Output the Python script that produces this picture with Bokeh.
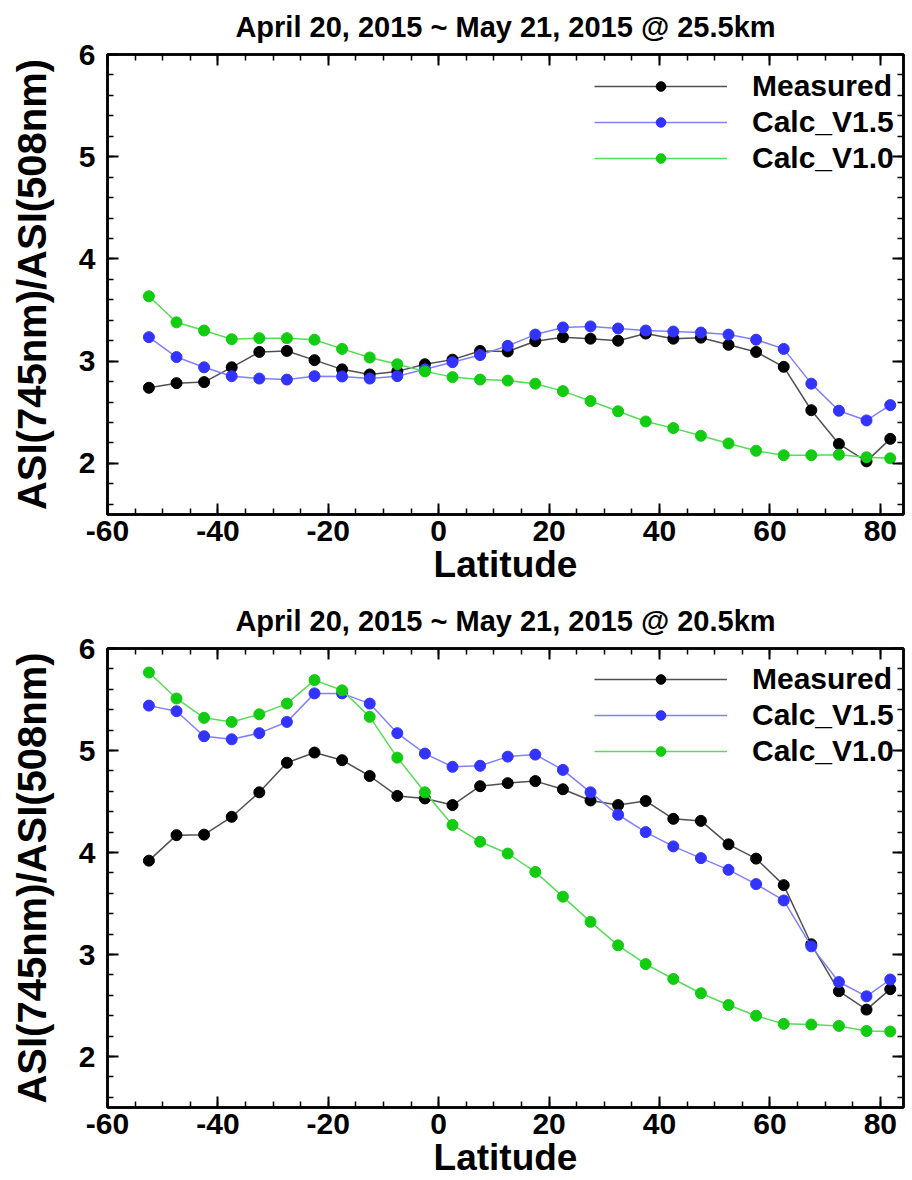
from bokeh.plotting import figure
from bokeh.models import (Range1d, LinearAxis, SingleIntervalTicker, Legend, LegendItem,
                          CustomLabelingPolicy, CustomJSTickFormatter)
from bokeh.layouts import column
from bokeh.embed import file_html
from bokeh.resources import INLINE

# ---------------- data ----------------
latitude = [-52.5, -47.5, -42.5, -37.5, -32.5, -27.5, -22.5, -17.5, -12.5, -7.5,
            -2.5, 2.5, 7.5, 12.5, 17.5, 22.5, 27.5, 32.5, 37.5, 42.5,
            47.5, 52.5, 57.5, 62.5, 67.5, 72.5, 77.5, 81.8]

title_top = "April 20, 2015 ~ May 21, 2015 @ 25.5km"
measured_25 = [2.74, 2.785, 2.795, 2.94, 3.09, 3.10, 3.01, 2.92, 2.87, 2.90,
               2.97, 3.015, 3.10, 3.095, 3.195, 3.235, 3.22, 3.20, 3.27, 3.22,
               3.23, 3.16, 3.09, 2.945, 2.52, 2.19, 2.02, 2.24]
calc_v15_25 = [3.235, 3.04, 2.94, 2.853, 2.83, 2.82, 2.853, 2.85, 2.83, 2.853,
               2.92, 2.99, 3.06, 3.15, 3.26, 3.33, 3.34, 3.32, 3.30, 3.29,
               3.28, 3.26, 3.21, 3.12, 2.78, 2.515, 2.42, 2.57]
calc_v10_25 = [3.635, 3.38, 3.30, 3.215, 3.225, 3.225, 3.21, 3.12, 3.036, 2.97,
               2.90, 2.844, 2.82, 2.81, 2.78, 2.707, 2.61, 2.51, 2.41, 2.345,
               2.27, 2.195, 2.123, 2.08, 2.08, 2.085, 2.06, 2.05]

title_bottom = "April 20, 2015 ~ May 21, 2015 @ 20.5km"
measured_20 = [3.92, 4.17, 4.175, 4.35, 4.59, 4.88, 4.98, 4.905, 4.75, 4.555,
               4.53, 4.465, 4.65, 4.68, 4.70, 4.62, 4.51, 4.465, 4.505, 4.33,
               4.31, 4.08, 3.94, 3.68, 3.10, 2.64, 2.46, 2.66]
calc_v15_20 = [5.44, 5.385, 5.14, 5.11, 5.17, 5.28, 5.56, 5.56, 5.46, 5.17,
               4.97, 4.84, 4.85, 4.94, 4.96, 4.81, 4.59, 4.37, 4.20, 4.06,
               3.945, 3.83, 3.69, 3.53, 3.08, 2.73, 2.59, 2.755]
calc_v10_20 = [5.765, 5.51, 5.32, 5.28, 5.355, 5.46, 5.69, 5.59, 5.33, 4.93,
               4.59, 4.27, 4.105, 3.99, 3.81, 3.567, 3.32, 3.09, 2.906, 2.76,
               2.62, 2.505, 2.40, 2.32, 2.313, 2.30, 2.25, 2.245]

series_names = ["Measured", "Calc_V1.5", "Calc_V1.0"]
marker_colors = ["#000000", "#3333ff", "#11cc11"]
line_colors = ["#505050", "#8080ff", "#55dd55"]

x_limits = (-60, 84.2)
y_limits = (1.5, 6)
x_label = "Latitude"
y_label = "ASI(745nm)/ASI(508nm)"

FONT = "Liberation Sans"


def style_axis(ax, show_labels=True):
    ax.axis_line_width = 2.5
    ax.axis_line_color = "black"
    ax.major_tick_in = 11
    ax.major_tick_out = 0
    ax.minor_tick_in = 6
    ax.minor_tick_out = 0
    ax.major_tick_line_width = 2
    ax.minor_tick_line_width = 1.5
    ax.major_label_text_font = FONT
    ax.major_label_text_font_style = "bold"
    ax.major_label_text_color = "black"
    ax.formatter = CustomJSTickFormatter(code="return tick.toFixed(0);")
    if show_labels:
        ax.major_label_text_font_size = "30px"
    else:
        ax.major_label_policy = CustomLabelingPolicy(code="return new Set();")
        ax.major_label_standoff = 0


def make_panel(title, series, height, border_top, border_bottom):
    p = figure(width=912, height=height,
               x_range=Range1d(*x_limits), y_range=Range1d(*y_limits),
               output_backend="svg", toolbar_location=None,
               min_border_left=107, min_border_right=4,
               min_border_top=border_top, min_border_bottom=border_bottom,
               x_axis_label=x_label, y_axis_label=y_label)
    p.title.text = title
    p.title.text_font = FONT
    p.title.text_font_size = "29px"
    p.title.text_font_style = "bold"
    p.title.text_color = "black"
    p.title.align = "center"
    p.title.offset = -16
    p.title.standoff = 2
    p.grid.visible = False
    p.outline_line_color = "black"
    p.outline_line_width = 2.5
    p.background_fill_color = "white"
    p.border_fill_color = "white"

    p.xaxis.ticker = SingleIntervalTicker(interval=20, num_minor_ticks=4)
    p.yaxis.ticker = SingleIntervalTicker(interval=1, num_minor_ticks=5)
    for ax in p.xaxis:
        style_axis(ax)
        ax.major_label_standoff = 6
        ax.axis_label_standoff = 0
        ax.axis_label_text_font = FONT
        ax.axis_label_text_font_size = "37px"
        ax.axis_label_text_font_style = "bold"
        ax.axis_label_text_color = "black"
    for ax in p.yaxis:
        style_axis(ax)
        ax.major_label_standoff = 12
        ax.axis_label_standoff = 22
        ax.axis_label_text_font = FONT
        ax.axis_label_text_font_size = "40px"
        ax.axis_label_text_font_style = "bold"
        ax.axis_label_text_color = "black"

    top_ax = LinearAxis(ticker=SingleIntervalTicker(interval=20, num_minor_ticks=4))
    style_axis(top_ax, show_labels=False)
    p.add_layout(top_ax, "above")
    right_ax = LinearAxis(ticker=SingleIntervalTicker(interval=1, num_minor_ticks=5))
    style_axis(right_ax, show_labels=False)
    p.add_layout(right_ax, "right")

    items = []
    for name, vals, mc, lc in zip(series_names, series, marker_colors, line_colors):
        lr = p.line(latitude, vals, line_color=lc, line_width=1.5)
        sr = p.scatter(latitude, vals, marker="circle", size=11,
                       fill_color=mc, line_color=mc)
        items.append(LegendItem(label=name, renderers=[lr, sr]))

    legend = Legend(items=items, location=(487, 339),
                    glyph_width=133, glyph_height=24, label_standoff=25,
                    label_text_font=FONT, label_text_font_size="30px",
                    label_text_font_style="bold", label_text_color="black",
                    border_line_color=None, background_fill_alpha=0,
                    padding=0, margin=0, spacing=2)
    p.add_layout(legend)
    return p


p1 = make_panel(title_top, [measured_25, calc_v15_25, calc_v10_25], 596, 54, 82)
p2 = make_panel(title_bottom, [measured_20, calc_v15_20, calc_v10_20], 584, 52, 72)

layout = column(p1, p2, spacing=0)
open("out.html", "w").write(file_html(layout, INLINE))
